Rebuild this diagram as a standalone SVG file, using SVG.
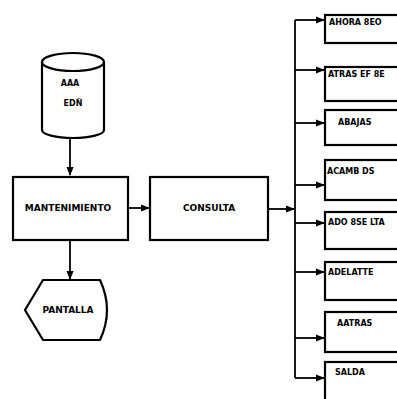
<svg xmlns="http://www.w3.org/2000/svg" width="397" height="399" viewBox="0 0 397 399">
<defs>
<marker id="ah" viewBox="0 0 10 10" refX="9" refY="5" markerWidth="5" markerHeight="5" orient="auto"><path d="M0,1 L10,5 L0,9 z" fill="#000"/></marker>
<style>
.s{fill:#fff;stroke:#000;stroke-width:2.2}
.c{fill:none;stroke:#000;stroke-width:1.8}
.t{font-family:"DejaVu Sans","Liberation Sans",Arial,sans-serif;font-weight:bold;font-size:8px;fill:#000}
.b{font-size:9px}
.m{text-anchor:middle}
</style>
</defs>
<rect width="397" height="399" fill="#fff"/>
<g id="connectors">
<path class="c" d="M70,138 V175" marker-end="url(#ah)"/>
<path class="c" d="M70,240 V279" marker-end="url(#ah)"/>
<path class="c" d="M128,208 H149" marker-end="url(#ah)"/>
<path class="c" d="M268,209 H294" marker-end="url(#ah)"/>
<path class="c" d="M295,20 V378"/>
<path class="c" d="M295,20 H324" marker-end="url(#ah)"/>
<path class="c" d="M295,70 H324" marker-end="url(#ah)"/>
<path class="c" d="M295,123 H324" marker-end="url(#ah)"/>
<path class="c" d="M295,185 H324" marker-end="url(#ah)"/>
<path class="c" d="M295,223 H324" marker-end="url(#ah)"/>
<path class="c" d="M295,272 H324" marker-end="url(#ah)"/>
<path class="c" d="M295,338 H324" marker-end="url(#ah)"/>
<path class="c" d="M295,378 H324" marker-end="url(#ah)"/>
</g>
<g id="archivo">
<path class="s" d="M42,62 V130 A31,8 0 0 0 104,130 V62"/>
<ellipse class="s" cx="73" cy="62" rx="31" ry="9"/>
<text class="t m" x="70" y="86">AAA</text>
<text class="t m" x="73" y="106">EDÑ</text>
</g>
<g id="mantenimiento">
<rect class="s" x="13" y="177" width="115" height="63"/>
<text class="t b m" x="68" y="211">MANTENIMIENTO</text>
</g>
<g id="pantalla">
<path class="s" d="M25,310 L43,280 H100 Q114,310 100,340 H43 Z"/>
<text class="t b m" x="68" y="313">PANTALLA</text>
</g>
<g id="consulta">
<rect class="s" x="150" y="177" width="118" height="63"/>
<text class="t b m" x="209" y="211">CONSULTA</text>
</g>
<g id="b1"><rect class="s" x="325" y="15" width="80" height="28"/><text class="t" x="329" y="25">AHORA 8EO</text></g>
<g id="b2"><rect class="s" x="325" y="67" width="80" height="34"/><text class="t" x="328" y="77">ATRAS EF 8E</text></g>
<g id="b3"><rect class="s" x="325" y="110" width="80" height="35"/><text class="t" x="338" y="125">ABAJAS</text></g>
<g id="b4"><rect class="s" x="325" y="160" width="80" height="40"/><text class="t" x="327" y="174">ACAMB DS</text></g>
<g id="b5"><rect class="s" x="325" y="212" width="80" height="37"/><text class="t" x="328" y="225">ADO 8SE LTA</text></g>
<g id="b6"><rect class="s" x="325" y="262" width="80" height="38"/><text class="t" x="328" y="275">ADELATTE</text></g>
<g id="b7"><rect class="s" x="325" y="312" width="80" height="40"/><text class="t" x="337" y="326">AATRAS</text></g>
<g id="b8"><rect class="s" x="325" y="362" width="80" height="45"/><text class="t" x="335" y="375">SALDA</text></g>
</svg>
